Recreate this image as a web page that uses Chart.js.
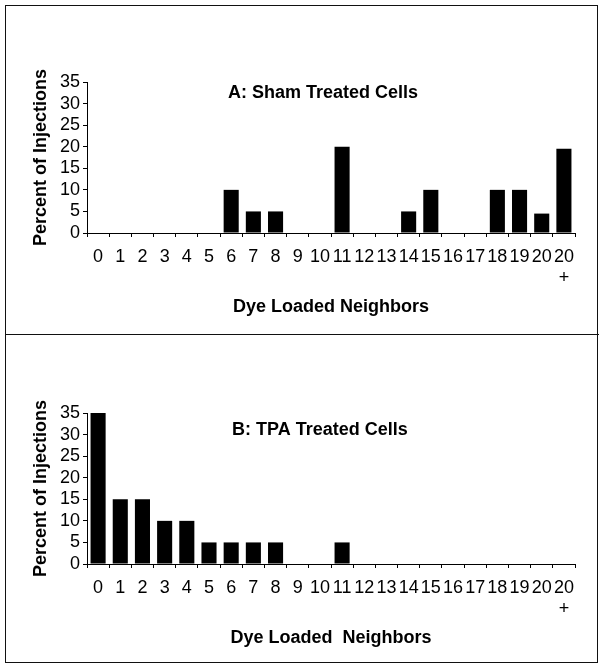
<!DOCTYPE html>
<html lang="en">
<head>
    <meta charset="UTF-8" />
    <title>Dye Loaded Neighbors</title>
    <style>
        body { margin: 0; background: #fff; }
        .page { position: relative; width: 605px; height: 666px; }
        .frame {
            position: absolute; left: 5px; top: 5px;
            width: 591px; height: 656px;
            border: 1.5px solid #111;
        }
        .divider {
            position: absolute; left: 5px; top: 334px;
            width: 594px; height: 0;
            border-top: 1.5px solid #111;
        }
        .panel { position: absolute; left: 0; width: 605px; }
        #panelA { top: 0; height: 335px; }
        #panelB { top: 335px; height: 330px; }
    </style>
</head>
<body>
    <div class="page">
        <div class="frame"></div>
        <div class="divider"></div>
        <div class="panel" id="panelA"><canvas id="chartA" width="605" height="335"></canvas></div>
        <div class="panel" id="panelB"><canvas id="chartB" width="605" height="330"></canvas></div>
    </div>

    <script src="https://cdn.jsdelivr.net/npm/chart.js"></script>
    <script>
        // categories (last one is "20+")
        const neighbors = ['0', '1', '2', '3', '4', '5', '6', '7', '8', '9', '10',
            '11', '12', '13', '14', '15', '16', '17', '18', '19', '20', ['20', '+']];

        // percent of injections
        const shamValues = [0, 0, 0, 0, 0, 0, 10, 5, 5, 0, 0, 20, 0, 0, 5, 10, 0, 0, 10, 10, 4.5, 19.5];
        const tpaValues = [35, 15, 15, 10, 10, 5, 5, 5, 5, 0, 0, 5, 0, 0, 0, 0, 0, 0, 0, 0, 0, 0];

        const yTicks = [0, 5, 10, 15, 20, 25, 30, 35];

        const FONT = '"Liberation Sans", Arial, sans-serif';
        Chart.defaults.font.family = FONT;
        Chart.defaults.color = '#000';

        // draws the panel caption inside the plot area
        const captionPlugin = {
            id: 'caption',
            afterDraw(chart, args, opts) {
                const ctx = chart.ctx;
                const area = chart.chartArea;
                ctx.save();
                ctx.font = 'bold 18px ' + FONT;
                ctx.fillStyle = '#000';
                ctx.textBaseline = 'middle';
                ctx.fillText(opts.text, area.left + opts.dx, area.top + opts.dy);
                ctx.restore();
            }
        };

        function createPanel(canvasId, values, caption, xTitle, padTop, padBottom, capDx, capDy) {
            return new Chart(document.getElementById(canvasId), {
                type: 'bar',
                data: {
                    labels: neighbors,
                    datasets: [{
                        data: values,
                        backgroundColor: '#000',
                        borderWidth: 0,
                        barPercentage: 0.68,
                        categoryPercentage: 1.0,
                    }]
                },
                options: {
                    responsive: false,
                    animation: false,
                    layout: { padding: { top: padTop, left: 26, right: 30, bottom: padBottom } },
                    plugins: {
                        legend: { display: false },
                        tooltip: { enabled: false },
                        caption: { text: caption, dx: capDx, dy: capDy },
                    },
                    scales: {
                        x: {
                            grid: { display: true, drawOnChartArea: false, tickLength: 4, color: '#000' },
                            border: { display: true, color: '#000', width: 1 },
                            ticks: {
                                autoSkip: false, maxRotation: 0, minRotation: 0, padding: 9,
                                font: { size: 18 }, color: '#000'
                            },
                            title: { display: true, text: xTitle, font: { size: 18, weight: 'bold' }, color: '#000' },
                            afterFit: (scale) => { scale.height = 89; },
                        },
                        y: {
                            min: 0,
                            max: 35,
                            afterBuildTicks: (scale) => { scale.ticks = yTicks.map(v => ({ value: v })); },
                            grid: { display: true, drawOnChartArea: false, tickLength: 4, color: '#000' },
                            border: { display: true, color: '#000', width: 1 },
                            ticks: { autoSkip: false, padding: 3, font: { size: 18 }, color: '#000' },
                            title: {
                                display: true, text: 'Percent of Injections',
                                font: { size: 18, weight: 'bold' }, color: '#000'
                            },
                            afterFit: (scale) => { scale.width = 61; },
                        }
                    }
                },
                plugins: [captionPlugin]
            });
        }

        createPanel('chartA', shamValues, 'A: Sham Treated Cells', 'Dye Loaded Neighbors', 82, 13, 141, 11);
        createPanel('chartB', tpaValues, 'B: TPA Treated Cells', 'Dye Loaded  Neighbors', 78, 12, 145, 17);
    </script>
</body>
</html>
